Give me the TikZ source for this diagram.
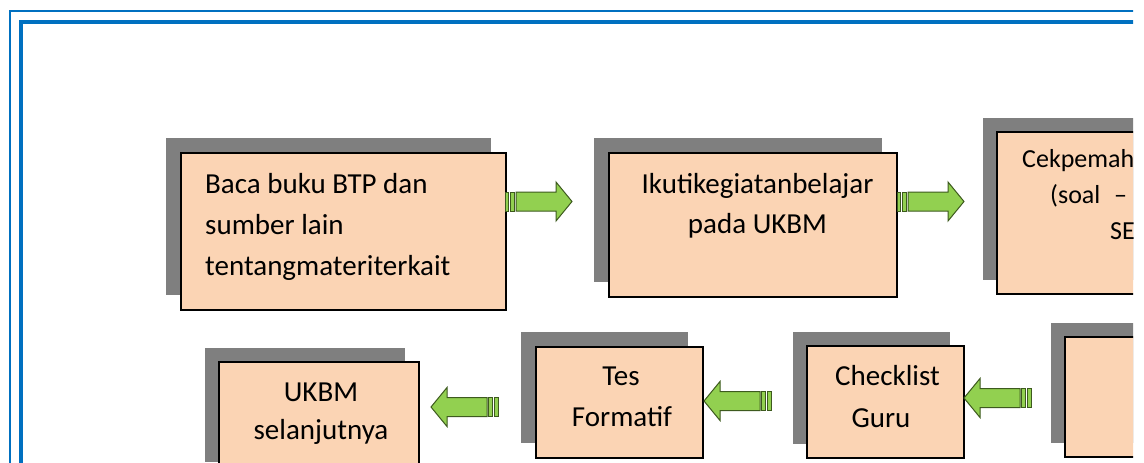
\documentclass[tikz,border=0pt]{standalone}
\usepackage{fontspec}
\setmainfont{Carlito}
\usetikzlibrary{calc}
\definecolor{peach}{HTML}{FBD4B4}
\definecolor{shade}{HTML}{7F7F7F}
\definecolor{frameblue}{HTML}{0070C0}
\definecolor{arrgreen}{HTML}{92D050}
\definecolor{arrline}{HTML}{3D5A1E}
\tikzset{
  stepbox/.style={draw=black, line width=2pt, fill=peach, outer sep=0pt, inner sep=0pt,
    anchor=north west, preaction={fill=shade, draw=none, transform canvas={xshift=-#1pt, yshift=#1pt}}},
  stepbox/.default=15,
  txt/.style={inner sep=0pt, font=\fontsize{29}{35}\selectfont},
  txtsmall/.style={inner sep=0pt, font=\fontsize{26}{31}\selectfont},
  arrowpart/.style={draw=arrline, line width=1pt, fill=arrgreen},
}
\newcommand\greenarr[2]{%
  \begin{scope}[shift={(#1)}, xscale=#2]
    \draw[arrowpart] (0,-9.5) rectangle (3.5,9.5);
    \draw[arrowpart] (5.5,-9.5) rectangle (9.5,9.5);
    \draw[arrowpart, line join=miter] (11,-9.5) -- (51,-9.5) -- (51,-19.5) -- (67,0) -- (51,19.5) -- (51,9.5) -- (11,9.5) -- cycle;
  \end{scope}}
\begin{document}
\begin{tikzpicture}[x=1pt, y=-1pt]
\useasboundingbox (0,0) rectangle (1144,463);
\fill[white] (0,0) rectangle (1144,463);
\clip (0,0) rectangle (1133,463);
% frame
\draw[frameblue, line width=2pt] (10,10.7) rectangle (1300,700);
\draw[frameblue, line width=4pt] (21,21.8) rectangle (1300,700);
% row 1 boxes
\node[stepbox, minimum width=325, minimum height=157] (b1) at (181,153) {};
\node[stepbox, minimum width=288, minimum height=144] (b2) at (609,153) {};
\node[stepbox=14, minimum width=260, minimum height=162] (b3) at (997,132) {};
% row 2 boxes
\node[stepbox=14, minimum width=200, minimum height=120] (b4) at (1065,337) {};
\node[stepbox=14, minimum width=157, minimum height=112] (b5) at (807,346) {};
\node[stepbox, minimum width=167, minimum height=111] (b6) at (536,347) {};
\node[stepbox=14, minimum width=200, minimum height=114] (b7) at (219,362) {};
% texts
\node[txt, anchor=base west] (t1a) at (205,193) {Baca buku BTP dan};
\node[txt, anchor=base west] (t1b) at (205,234) {sumber lain};
\node[txt, anchor=base west] (t1c) at (205,275) {tentangmateriterkait};
\node[txt, anchor=base] (t2a) at (757.5,193) {Ikutikegiatanbelajar};
\node[txt, anchor=base] (t2b) at (757.5,233) {pada UKBM};
\node[txtsmall, anchor=base west] (t3a) at (1022,167) {Cekpemah};
\node[txtsmall, anchor=base west] (t3b) at (1050,203) {(soal \hspace{8pt}–};
\node[txtsmall, anchor=base west] (t3c) at (1110,239) {SE};
\node[txt, anchor=base] (t5a) at (887.5,385) {Checklist};
\node[txt, anchor=base] (t5b) at (881,427) {Guru};
\node[txt, anchor=base] (t6a) at (621,385) {Tes};
\node[txt, anchor=base] (t6b) at (622,426) {Formatif};
\node[txt, anchor=base] (t7a) at (321,401) {UKBM};
\node[txt, anchor=base] (t7b) at (321,439.5) {selanjutnya};
% arrow tails
\coordinate (a1) at ($(b1.north east)+(-1,48.5)$);
\coordinate (a2) at ($(b2.north east)+(0,48.5)$);
\coordinate (a3) at ($(b4.north west)+(-34,61)$);
\coordinate (a4) at ($(b5.north west)+(-36,55)$);
\coordinate (a5) at ($(b6.north west)+(-38,60)$);
\greenarr{a1}{1}
\greenarr{a2}{1}
\greenarr{a3}{-1}
\greenarr{a4}{-1}
\greenarr{a5}{-1}
\end{tikzpicture}
\end{document}
